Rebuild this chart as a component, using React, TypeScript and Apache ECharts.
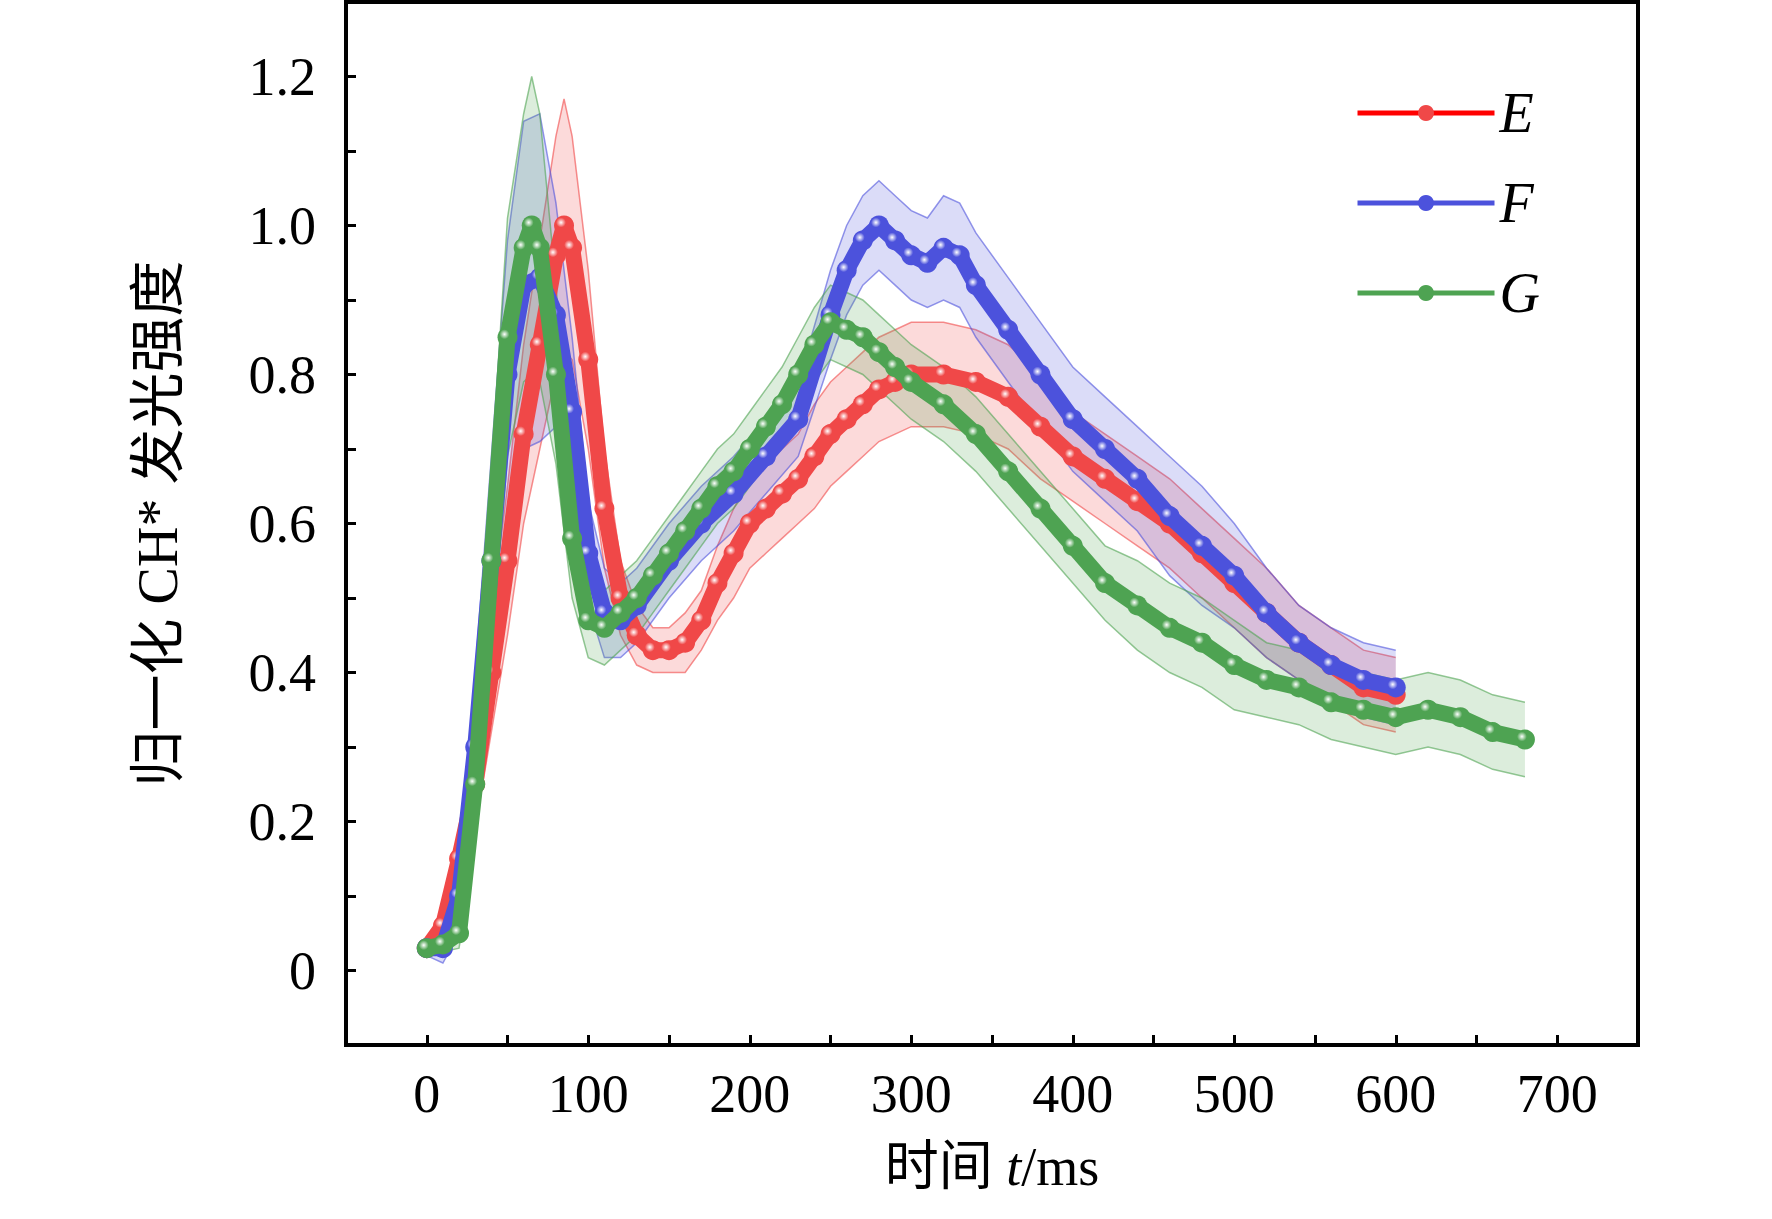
import React, { useEffect, useRef } from "react";
import * as echarts from "echarts";

const tE = [0,10,20,30,40,50,60,70,80,85,90,100,110,120,130,140,150,160,170,180,190,200,210,220,230,240,250,260,270,280,290,300,320,340,360,380,400,420,440,460,480,500,520,540,560,580,600];
const vE = [0.03,0.06,0.15,0.25,0.4,0.55,0.72,0.84,0.96,1.0,0.97,0.82,0.62,0.5,0.45,0.43,0.43,0.44,0.47,0.52,0.56,0.6,0.62,0.64,0.66,0.69,0.72,0.74,0.76,0.78,0.79,0.8,0.8,0.79,0.77,0.73,0.69,0.66,0.63,0.6,0.56,0.52,0.48,0.44,0.41,0.38,0.37];
const bE = [0.01,0.02,0.04,0.06,0.08,0.1,0.12,0.14,0.16,0.17,0.15,0.12,0.08,0.05,0.04,0.03,0.03,0.04,0.04,0.05,0.06,0.06,0.06,0.06,0.06,0.07,0.07,0.07,0.07,0.07,0.07,0.07,0.07,0.07,0.07,0.07,0.06,0.06,0.06,0.06,0.06,0.06,0.06,0.05,0.05,0.05,0.05];

const tF = [0,10,20,30,40,50,60,70,80,90,100,110,120,130,150,170,190,210,230,250,260,270,280,290,300,310,320,330,340,360,380,400,420,440,460,480,500,520,540,560,580,600];
const vF = [0.03,0.03,0.1,0.3,0.55,0.8,0.92,0.93,0.88,0.75,0.56,0.48,0.47,0.49,0.55,0.6,0.64,0.69,0.74,0.88,0.94,0.98,1.0,0.98,0.96,0.95,0.97,0.96,0.92,0.86,0.8,0.74,0.7,0.66,0.61,0.57,0.53,0.48,0.44,0.41,0.39,0.38];
const bF = [0.01,0.02,0.05,0.1,0.14,0.18,0.22,0.22,0.15,0.1,0.07,0.06,0.05,0.05,0.05,0.05,0.05,0.05,0.05,0.06,0.06,0.06,0.06,0.06,0.06,0.06,0.07,0.07,0.07,0.07,0.07,0.07,0.07,0.07,0.08,0.08,0.07,0.06,0.05,0.05,0.05,0.05];

const tG = [0,10,20,30,40,50,60,65,70,80,90,100,110,120,130,140,150,160,170,180,190,200,210,220,230,240,250,260,270,280,290,300,320,340,360,380,400,420,440,460,480,500,520,540,560,580,600,620,640,660,680];
const vG = [0.03,0.035,0.05,0.25,0.55,0.85,0.97,1.0,0.97,0.8,0.58,0.47,0.46,0.48,0.5,0.53,0.56,0.59,0.62,0.65,0.67,0.7,0.73,0.76,0.8,0.84,0.87,0.86,0.85,0.83,0.81,0.79,0.76,0.72,0.67,0.62,0.57,0.52,0.49,0.46,0.44,0.41,0.39,0.38,0.36,0.35,0.34,0.35,0.34,0.32,0.31];
const bG = [0.01,0.01,0.02,0.08,0.12,0.16,0.18,0.2,0.18,0.12,0.08,0.05,0.05,0.05,0.05,0.05,0.05,0.05,0.05,0.05,0.05,0.05,0.05,0.05,0.05,0.05,0.05,0.05,0.05,0.05,0.05,0.05,0.05,0.05,0.05,0.05,0.05,0.05,0.06,0.06,0.06,0.06,0.05,0.05,0.05,0.05,0.05,0.05,0.05,0.05,0.05];

const names = ["E", "F", "G"];
const colors = ["#f04848", "#4c52dc", "#4ea352"];
const lineColors = ["#ff0000", "#4c52dc", "#4ea352"];
const xTicks = [0, 100, 200, 300, 400, 500, 600, 700];

export default function App() {
  const ref = useRef<HTMLDivElement>(null);
  useEffect(() => {
    const chart = echarts.init(ref.current!, null, { renderer: "svg" });
    const sets = [[tE, vE, bE], [tF, vF, bF], [tG, vG, bG]];
    const series: any[] = [];
    sets.forEach(([t, v, b], i) => {
      series.push({
        type: "custom", silent: true, z: 1,
        data: [0],
        renderItem: (params: any, api: any) => {
          const up = t.map((x, k) => api.coord([x, v[k] + b[k]]));
          const lo = t.map((x, k) => api.coord([x, v[k] - b[k]])).reverse();
          return {
            type: "group",
            children: [
              { type: "polygon", shape: { points: up.concat(lo) }, style: { fill: colors[i], opacity: 0.2 } },
              { type: "polyline", shape: { points: up }, style: { fill: "none", stroke: colors[i], lineWidth: 1.5, opacity: 0.6 } },
              { type: "polyline", shape: { points: lo }, style: { fill: "none", stroke: colors[i], lineWidth: 1.5, opacity: 0.6 } },
            ],
          };
        },
      });
    });
    sets.forEach(([t, v], i) => {
      series.push({
        name: names[i], type: "line", symbol: "circle", symbolSize: 20, showAllSymbol: true,
        data: t.map((x, k) => [x, v[k]]),
        lineStyle: { width: 16, color: colors[i] },
        itemStyle: {
          color: new echarts.graphic.RadialGradient(0.35, 0.35, 0.7, [
            { offset: 0, color: "#ffffff" },
            { offset: 0.35, color: colors[i] },
            { offset: 1, color: colors[i] },
          ]),
        },
        z: 3 + i,
      });
    });
    const font = "Liberation Serif, Noto Sans CJK SC";
    chart.setOption({
      animation: false,
      grid: { left: 346, right: 134, top: 2, bottom: 174 },
      legend: {
        orient: "vertical", left: 1350, top: 80, itemWidth: 137, itemHeight: 20, itemGap: 34,
        data: names.map((n, i) => ({ name: n, itemStyle: { color: colors[i] }, lineStyle: { color: lineColors[i], width: 5 } })),
        textStyle: { fontFamily: "Liberation Serif", fontStyle: "italic", fontSize: 56, color: "#000" },
      },
      xAxis: {
        type: "value", min: -50, max: 750, interval: 50,
        name: "{a|时间 }{b|t}{a|/ms}", nameLocation: "middle", nameGap: 95,
        nameTextStyle: { rich: { a: { fontFamily: font, fontSize: 54, color: "#000" }, b: { fontFamily: font, fontSize: 54, fontStyle: "italic", color: "#000" } } },
        axisLine: { onZero: false, lineStyle: { color: "#000", width: 4 } },
        axisTick: { inside: true, length: 10, lineStyle: { width: 3, color: "#000" } },
        axisLabel: {
          fontFamily: "Liberation Serif", fontSize: 54, color: "#000", margin: 22,
          formatter: (v: number) => (xTicks.includes(v) ? String(v) : ""),
        },
        splitLine: { show: false },
      },
      yAxis: {
        type: "value", min: -0.1, max: 1.3, interval: 0.1,
        name: "归一化 CH* 发光强度", nameLocation: "middle", nameGap: 160,
        nameTextStyle: { fontFamily: font, fontSize: 56, color: "#000" },
        axisLine: { onZero: false, lineStyle: { color: "#000", width: 4 } },
        axisTick: { inside: true, length: 10, lineStyle: { width: 3, color: "#000" } },
        axisLabel: {
          fontFamily: "Liberation Serif", fontSize: 54, color: "#000", margin: 30,
          formatter: (v: number) => {
            const r = Math.round(v * 10);
            if (r < 0 || r % 2 !== 0 || r > 12) return "";
            return r === 0 ? "0" : (r / 10).toFixed(1);
          },
        },
        splitLine: { show: false },
      },
      graphic: [
        { type: "rect", shape: { x: 346, y: 2, width: 1292, height: 1043 }, style: { fill: "none", stroke: "#000", lineWidth: 4 }, z: 100 },
      ],
      series,
    });
    return () => chart.dispose();
  }, []);
  return <div ref={ref} style={{ position: "fixed", left: 0, top: 0, width: 1772, height: 1219, background: "#fff" }} />;
}
